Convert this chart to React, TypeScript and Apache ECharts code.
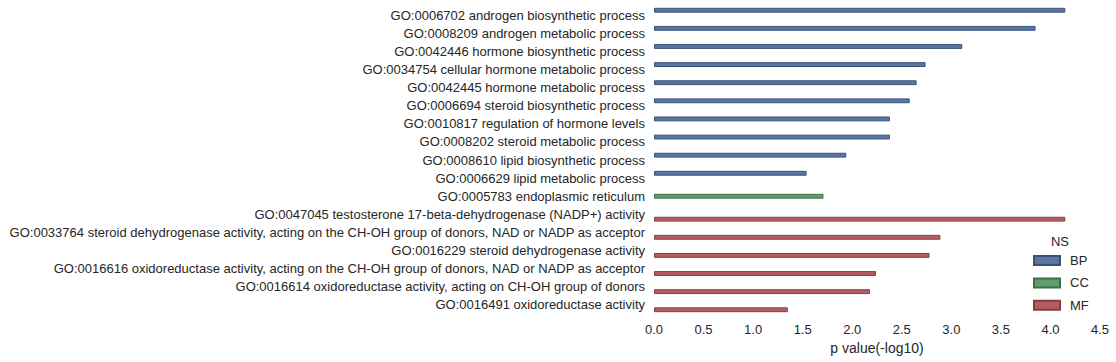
import React, { useEffect, useRef } from "react";
import * as echarts from "echarts";

const categories: string[] = [
  "GO:0006702 androgen biosynthetic process",
  "GO:0008209 androgen metabolic process",
  "GO:0042446 hormone biosynthetic process",
  "GO:0034754 cellular hormone metabolic process",
  "GO:0042445 hormone metabolic process",
  "GO:0006694 steroid biosynthetic process",
  "GO:0010817 regulation of hormone levels",
  "GO:0008202 steroid metabolic process",
  "GO:0008610 lipid biosynthetic process",
  "GO:0006629 lipid metabolic process",
  "GO:0005783 endoplasmic reticulum",
  "GO:0047045 testosterone 17-beta-dehydrogenase (NADP+) activity",
  "GO:0033764 steroid dehydrogenase activity, acting on the CH-OH group of donors, NAD or NADP as acceptor",
  "GO:0016229 steroid dehydrogenase activity",
  "GO:0016616 oxidoreductase activity, acting on the CH-OH group of donors, NAD or NADP as acceptor",
  "GO:0016614 oxidoreductase activity, acting on CH-OH group of donors",
  "GO:0016491 oxidoreductase activity",
];

const namespaces: string[] = ["BP", "BP", "BP", "BP", "BP", "BP", "BP", "BP", "BP", "BP", "CC", "MF", "MF", "MF", "MF", "MF", "MF"];

const pValues: number[] = [4.15, 3.85, 3.11, 2.74, 2.65, 2.58, 2.38, 2.38, 1.94, 1.54, 1.71, 4.15, 2.89, 2.78, 2.24, 2.18, 1.35];

const groups: string[] = ["BP", "CC", "MF"];
const xTicks = { min: 0, max: 4.5, interval: 0.5 };

const fills: Record<string, string> = { BP: "#5975a4", CC: "#5f9e6e", MF: "#b55d60" };
const borders: Record<string, string> = { BP: "#3b5078", CC: "#3d7049", MF: "#843e40" };

export default function App() {
  const ref = useRef<HTMLDivElement>(null);
  useEffect(() => {
    if (!ref.current) return;
    const chart = echarts.init(ref.current, null, { renderer: "svg" });
    const textColor = "#262626";
    const font = "'Liberation Sans', Arial, sans-serif";
    chart.setOption({
      animation: false,
      backgroundColor: "#ffffff",
      textStyle: { fontFamily: font, color: textColor },
      grid: { left: 654, right: 16, top: 6, bottom: 48, containLabel: false },
      xAxis: {
        type: "value",
        min: xTicks.min,
        max: xTicks.max,
        interval: xTicks.interval,
        axisLine: { show: false },
        axisTick: { show: false },
        splitLine: { show: false },
        axisLabel: {
          color: textColor,
          fontSize: 13,
          fontFamily: font,
          margin: 9,
          formatter: (v: number) => v.toFixed(1),
        },
        name: "p value(-log10)",
        nameLocation: "middle",
        nameGap: 27,
        nameTextStyle: { color: textColor, fontSize: 14, fontFamily: font },
      },
      yAxis: {
        type: "category",
        data: categories,
        inverse: true,
        axisLine: { show: false },
        axisTick: { show: false },
        splitLine: { show: false },
        axisLabel: { color: textColor, fontSize: 13, fontFamily: font, margin: 9 },
      },
      legend: {
        orient: "vertical",
        left: 1033,
        top: 254,
        padding: 0,
        itemWidth: 26,
        itemHeight: 9,
        itemGap: 9.4,
        icon: "rect",
        data: groups,
        textStyle: { color: textColor, fontSize: 13, lineHeight: 9, fontFamily: font, padding: [0, 0, 0, 5] },
      },
      graphic: [
        {
          type: "text",
          x: 1060,
          y: 241,
          style: {
            text: "NS",
            fontSize: 13,
            fontFamily: font,
            fill: textColor,
            align: "center",
            verticalAlign: "middle",
          },
        },
      ],
      series: groups.map((g) => ({
        name: g,
        type: "bar",
        barGap: "0%",
        barCategoryGap: "20%",
        data: pValues.map((v, i) => (namespaces[i] === g ? v : null)),
        itemStyle: { color: fills[g], borderColor: borders[g], borderWidth: 1 },
      })),
    });
    return () => chart.dispose();
  }, []);
  return (
    <div
      ref={ref}
      style={{ position: "fixed", left: 0, top: 0, width: 1116, height: 362 }}
    />
  );
}
